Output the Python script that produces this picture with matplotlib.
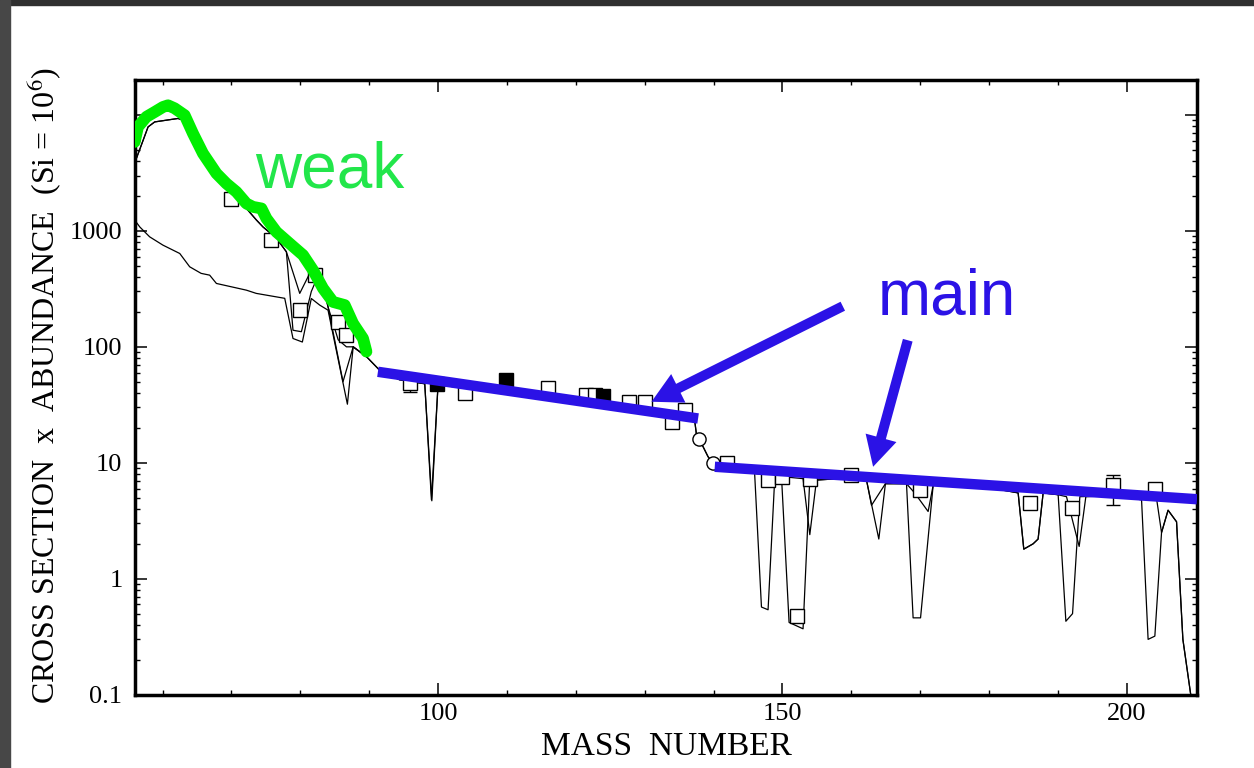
import numpy as np
import matplotlib
matplotlib.use('Agg')
from matplotlib import pyplot as plt
from matplotlib.patches import Rectangle
from matplotlib.ticker import FixedLocator, LogLocator, NullFormatter

plt.rcParams['font.family'] = ['Liberation Serif', 'DejaVu Serif']
plt.rcParams['mathtext.fontset'] = 'stix'

# model sigma*N curves (mass number, value)
mass_a = [55.95, 57.9, 58.86, 62.24, 63.94, 65.87, 67.82, 70.72, 72.18, 73.63, 74.59, 76.53, 77.98,
          79.92, 81.37, 82.82, 84.03, 85.5, 86.7, 87.68, 89.63, 91.5, 94.4, 98.07, 99.04, 100.0, 104,
          110, 116, 122, 124, 128, 130, 134, 136, 137.26, 137.5, 137.9, 138.5, 139.2, 139.9, 141.9,
          145.97, 148.9, 149.87, 153.0, 153.98, 154.95, 160, 162.21, 162.94, 164.96, 168.02, 169.2,
          171.16, 171.89, 176, 180, 184.23, 185.05, 186.4, 187.13, 187.86, 190.04, 191.25, 193.09,
          194.06, 198, 202.15, 204.08, 205.05, 206.0, 207.23, 208.15, 209.4]
sigma_a = [3840, 7880, 8700, 9320, 8650, 4240, 2830, 1990, 1560, 1240, 1080, 865, 660,
           289, 430, 443, 221, 115, 100, 100, 82, 63, 52, 48, 4.8, 47, 44,
           39, 35, 31, 30, 28, 27, 24, 23.5, 23.3, 17.9, 15.9, 13.7, 11.3, 9.9, 9.6,
           8.1, 7.6, 7.6, 7.3, 2.4, 7.1, 7.4, 7.1, 4.3, 6.6, 6.6, 5.5,
           3.8, 6.4, 6.4, 6.1, 5.5, 1.8, 2.0, 2.2, 5.5, 5.3, 5.1, 1.9,
           5.1, 5.2, 4.8, 6.2, 2.5, 3.9, 3.1, 0.3, 0.09]

mass_b = [55.95, 57.9, 58.86, 62.24, 63.94, 65.87, 67.82, 70.72, 72.18, 73.63, 74.59, 76.53, 77.98,
          78.94, 80.16, 81.6, 82.82, 84.03, 86.2, 87.68, 89.63, 91.5, 94.4, 98.07, 99.1, 100.0, 104,
          110, 116, 122, 124, 128, 130, 134, 136, 137.26, 137.5, 137.9, 138.5, 139.2, 139.9, 141.9,
          145.97, 146.96, 147.92, 148.9, 149.87, 150.97, 153.0, 153.98, 154.95, 160, 162.21, 164.0,
          164.96, 168.02, 168.98, 170.06, 171.89, 176, 180, 184.23, 185.05, 186.4, 187.13, 187.86,
          190.04, 191.16, 192.13, 193.19, 198, 202.15, 203.1, 204.08, 205.05, 206.0, 207.23, 208.15, 209.4]
sigma_b = [3840, 7880, 8700, 9320, 8650, 4240, 2830, 1990, 1560, 1240, 1080, 865, 660,
           139, 135, 300, 443, 221, 50, 100, 82, 63, 52, 48, 4.7, 47, 44,
           39, 35, 31, 30, 28, 27, 24, 23.5, 23.3, 17.9, 15.9, 13.7, 11.3, 9.9, 9.6,
           8.1, 0.57, 0.54, 7.6, 7.6, 0.42, 0.37, 7.3, 7.1, 7.4, 7.1, 2.2,
           6.6, 6.6, 0.46, 0.46, 6.4, 6.4, 6.1, 5.5, 1.8, 2.0, 2.2, 5.5,
           5.3, 0.43, 0.50, 5.1, 5.2, 4.8, 0.30, 0.32, 2.5, 3.9, 3.1, 0.3, 0.09]

# lower curve (main component only) at low masses
mass_c = [55.95, 56.7, 58.13, 60.06, 62.5, 63.94, 65.6, 66.84, 67.82, 72.18, 73.6, 77.74,
          78.94, 80.3, 81.6, 82.82, 84.03, 86.84, 87.68, 89.63]
sigma_c = [1240, 1080, 888, 753, 638, 490, 430, 415, 352, 308, 289, 262,
           118, 110, 261, 229, 207, 32, 100, 82]

# highlighted weak component
weak_mass = [55.95, 56.43, 57.65, 58.86, 60.06, 60.79, 61.76, 63.21, 64.42, 65.87, 67.82, 69.27,
             70.72, 72.18, 73.14, 74.36, 75.08, 76.53, 78.46, 80.40, 81.85, 83.30, 84.75, 86.45,
             87.66, 89.11, 89.60]
weak_sigma = [5850, 7880, 9620, 10600, 11700, 12100, 11400, 9940, 6910, 4650, 3130, 2560,
              2170, 1720, 1610, 1560, 1280, 980, 778, 618, 458, 319, 244, 229,
              159, 118, 91]

# main component guide lines
main1_mass = [91.27, 137.76]
main1_sigma = [60.9, 24.1]
main2_mass = [140.18, 210.2]
main2_sigma = [9.24, 4.85]

# measured points
sq_mass = [69.98, 75.81, 79.92, 82.08, 85.5, 86.7, 95.9, 103.9, 116.0, 121.55, 122.75, 127.8,
           130.0, 133.9, 135.8, 141.9, 147.9, 149.9, 152.05, 154.0, 160.0, 170.0, 185.9, 192.1,
           198.0, 204.1]
sq_sigma = [1900, 831, 207, 415, 164, 126, 48.3, 40, 43.8, 38.3, 38.3, 33.6,
            33.6, 22.6, 28.5, 9.9, 7.1, 7.5, 0.477, 7.2, 7.83, 5.82, 4.52, 4.09,
            6.43, 6.0]
fill_mass = [99.9, 109.9, 124.0]
fill_sigma = [47.5, 51.6, 37.6]
circ_mass = [137.9, 139.9]
circ_sigma = [15.9, 9.9]
err_mass = [95.9, 198.0]
err_mid = [48.3, 6.43]
err_lo = [41, 4.34]
err_hi = [56, 7.83]

blue = '#2b12e6'
green = '#00ee00'

W, H = 1254, 768
fig = plt.figure(figsize=(W / 100, H / 100), dpi=100)
ax = fig.add_axes([135 / W, 1 - 694.7 / H, (1197 - 135) / W, (694.7 - 80) / H])

# slide border
fig.patches.append(Rectangle((0, 1 - 5 / H), 1, 5 / H, transform=fig.transFigure, color='#303030', zorder=0))
fig.patches.append(Rectangle((0, 0), 10 / W, 1, transform=fig.transFigure, color='#474747', zorder=0))

ax.plot(mass_c, sigma_c, color='black', lw=0.9, zorder=2)
ax.plot(mass_b, sigma_b, color='black', lw=0.9, zorder=2)
ax.plot(mass_a, sigma_a, color='black', lw=0.9, zorder=2)

yerr = [np.array(err_mid) - np.array(err_lo), np.array(err_hi) - np.array(err_mid)]
ax.errorbar(err_mass, err_mid, yerr=yerr, fmt='none', ecolor='black',
            elinewidth=1.0, capsize=5, capthick=1.0, zorder=3)
ax.plot(sq_mass, sq_sigma, 's', ms=10, mfc='white', mec='black', mew=1.0, zorder=3)
ax.plot(fill_mass, fill_sigma, 's', ms=10, mfc='black', mec='black', mew=1.0, zorder=3)
ax.plot(circ_mass, circ_sigma, 'o', ms=9.5, mfc='white', mec='black', mew=1.0, zorder=3)

ax.plot(weak_mass, weak_sigma, color=green, lw=8.5, solid_capstyle='round', solid_joinstyle='round', zorder=5)
ax.plot(main1_mass, main1_sigma, color=blue, lw=7.5, solid_capstyle='butt', zorder=5)
ax.plot(main2_mass, main2_sigma, color=blue, lw=7.5, solid_capstyle='butt', zorder=5)

arrow = dict(arrowstyle='simple,head_length=1.08,head_width=1.15,tail_width=0.36',
             mutation_scale=20, fc=blue, ec='none', shrinkA=0, shrinkB=0)
ax.annotate('', xy=(130.99, 33.6), xytext=(158.77, 224), arrowprops=arrow, zorder=6)
ax.annotate('', xy=(163.17, 9.24), xytext=(168.2, 114), arrowprops=arrow, zorder=6)

ax.text(73.4, 2381, 'weak', color='#22e64a', fontsize=46, family=['Liberation Sans', 'DejaVu Sans'],
        ha='left', va='baseline', zorder=6)
ax.text(163.85, 191, 'main', color=blue, fontsize=46, family=['Liberation Sans', 'DejaVu Sans'],
        ha='left', va='baseline', zorder=6)

ax.set_yscale('log')
ax.set_xlim(56, 210.2)
ax.set_ylim(0.1, 2e4)
ax.set_xticks([100, 150, 200])
ax.set_xticklabels(['100', '150', '200'])
ax.xaxis.set_minor_locator(FixedLocator([60, 70, 80, 90, 110, 120, 130, 140, 160, 170, 180, 190]))
ax.set_yticks([0.1, 1, 10, 100, 1000, 10000])
ax.set_yticklabels(['0.1', '1', '10', '100', '1000', ''])
ax.yaxis.set_minor_locator(LogLocator(base=10, subs=np.arange(2, 10) * 1.0))
ax.yaxis.set_minor_formatter(NullFormatter())
ax.tick_params(which='both', direction='in', top=True, right=True)
ax.tick_params(which='major', length=8.5, width=1.1, labelsize=19)
ax.tick_params(which='minor', length=3.8, width=1.0)
ax.tick_params(axis='x', pad=6)
ax.tick_params(axis='y', pad=9)
for s in ax.spines.values():
    s.set_linewidth(2.5)

fig.text(666 / W, 1 - 747 / H, 'MASS  NUMBER', ha='center', va='center', fontsize=24)
fig.text(44 / W, 1 - 385 / H, r'CROSS SECTION  x  ABUNDANCE  (Si = 10$^6$)', rotation=90,
         ha='center', va='center', fontsize=23)

fig.savefig('out.png', dpi=100)
